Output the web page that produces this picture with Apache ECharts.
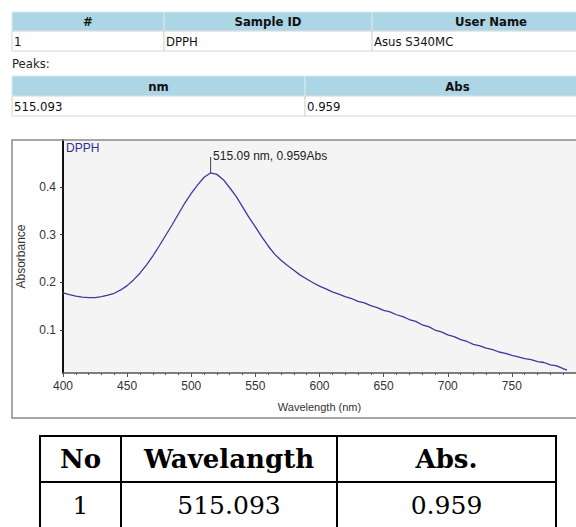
<!DOCTYPE html>
<html><head><meta charset="utf-8">
<script src="https://cdn.jsdelivr.net/npm/echarts@6/dist/echarts.min.js"></script>
<style>html,body{margin:0;padding:0;background:#fff}#c{width:576px;height:527px}</style>
</head><body><div id="c"></div>
<script>
// ---- data ----
const wavelengths = [400,405,410,415,420,425,430,435,440,445,450,455,460,465,470,475,480,485,490,495,500,505,510,515,520,525,530,535,540,545,550,555,560,565,570,575,580,585,590,595,600,605,610,615,620,625,630,635,640,645,650,655,660,665,670,675,680,685,690,695,700,705,710,715,720,725,730,735,740,745,750,755,760,765,770,775,780,785,790,793];
const absorbance = [0.178,0.174,0.171,0.169,0.168,0.168,0.170,0.173,0.177,0.184,0.193,0.205,0.219,0.236,0.255,0.276,0.298,0.320,0.343,0.366,0.386,0.404,0.420,0.429,0.426,0.415,0.398,0.380,0.358,0.336,0.316,0.295,0.276,0.259,0.246,0.235,0.225,0.215,0.207,0.199,0.192,0.186,0.180,0.175,0.170,0.166,0.160,0.157,0.151,0.147,0.141,0.138,0.132,0.128,0.122,0.118,0.111,0.107,0.100,0.096,0.090,0.086,0.080,0.076,0.070,0.067,0.062,0.059,0.054,0.051,0.047,0.044,0.040,0.038,0.034,0.032,0.027,0.025,0.019,0.016];
const yTicks = [0.1,0.2,0.3,0.4];
const seriesName = 'DPPH';
const peakPoint = [515.093, 0.429];
const peakLabel = '515.09 nm, 0.959Abs';
const sampleHeaders = ['#','Sample ID','User Name'];
const sampleRow = ['1','DPPH','Asus S340MC'];
const peaksCaption = 'Peaks:';
const peakHeaders = ['nm','Abs'];
const peakRow = ['515.093','0.959'];
const resultHeaders = ['No','Wavelangth','Abs.'];
const resultRow = ['1','515.093','0.959'];

// ---- layout ----
const SANS = "'Liberation Sans Narrow','DejaVu Sans Condensed','Liberation Sans',Arial,sans-serif";
const ARIAL = "'Liberation Sans',Arial,sans-serif";
const SERIF = "'DejaVu Serif','Liberation Serif',serif";
const g = [];
function table(cols, y0, hH, rH, headers, row){
  for(let i=0;i<headers.length;i++){
    const x0=cols[i], x1=cols[i+1];
    g.push({type:'rect',shape:{x:x0,y:y0,width:x1-x0,height:hH},style:{fill:'#acd5e5',stroke:'#d8e8ee',lineWidth:1},silent:true});
    g.push({type:'text',x:(x0+x1)/2,y:y0+hH/2,style:{text:headers[i],font:'bold 13px '+SANS,fill:'#111',align:'center',verticalAlign:'middle'},silent:true});
    g.push({type:'rect',shape:{x:x0,y:y0+hH,width:x1-x0,height:rH},style:{fill:'#fff',stroke:'#d4d4d4',lineWidth:1},silent:true});
    g.push({type:'text',x:x0+2,y:y0+hH+rH/2,style:{text:row[i],font:'13px '+SANS,fill:'#111',align:'left',verticalAlign:'middle'},silent:true});
  }
}
table([12,164,372,610], 12, 19, 20, sampleHeaders, sampleRow);
g.push({type:'text',x:12,y:63,style:{text:peaksCaption,font:'13px '+SANS,fill:'#222',align:'left',verticalAlign:'middle'},silent:true});
table([12,305,610], 76, 20, 20, peakHeaders, peakRow);
// chart frame
g.push({type:'rect',shape:{x:12,y:140,width:620,height:278},style:{fill:'none',stroke:'#8a8a8a',lineWidth:1.5},silent:true,z:10});
g.push({type:'text',x:66,y:148,style:{text:seriesName,font:'12px '+ARIAL,fill:'#2e2e9e',align:'left',verticalAlign:'middle'},silent:true,z:10});
// results table
const rc=[40,121,337,556];
g.push({type:'rect',shape:{x:40,y:436,width:516,height:96},style:{fill:'none',stroke:'#000',lineWidth:2},silent:true});
g.push({type:'line',shape:{x1:40,y1:482,x2:556,y2:482},style:{stroke:'#000',lineWidth:2},silent:true});
[121,337].forEach(x=>g.push({type:'line',shape:{x1:x,y1:436,x2:x,y2:532},style:{stroke:'#000',lineWidth:2},silent:true}));
for(let i=0;i<3;i++){
  const cx=(rc[i]+rc[i+1])/2;
  g.push({type:'text',x:cx,y:459,style:{text:resultHeaders[i],font:'bold 26px '+SERIF,fill:'#000',align:'center',verticalAlign:'middle'},silent:true});
  g.push({type:'text',x:cx,y:505,style:{text:resultRow[i],font:'25px '+SERIF,fill:'#000',align:'center',verticalAlign:'middle'},silent:true});
}

const chart = echarts.init(document.getElementById('c'), null, {renderer:'svg'});
chart.setOption({
  animation:false,
  backgroundColor:'#fff',
  grid:{left:63,top:140,width:522.3,height:233,show:true,backgroundColor:'#f4f4f4',borderWidth:0},
  xAxis:{type:'value',min:400,max:800,interval:50,
    name:'Wavelength (nm)',nameLocation:'middle',nameGap:28,
    nameTextStyle:{fontFamily:ARIAL,fontSize:11,color:'#333'},
    axisLine:{lineStyle:{color:'#555',width:1.5}},
    axisTick:{show:true,length:4,inside:false,lineStyle:{color:'#555'}},
    minorTick:{show:true,splitNumber:5,length:2,lineStyle:{color:'#555'}},
    axisLabel:{showMaxLabel:false,fontFamily:ARIAL,fontSize:12,color:'#333',margin:7},
    splitLine:{show:false}},
  yAxis:{type:'value',min:0.01,max:0.498,
    name:'Absorbance',nameLocation:'middle',nameGap:36,nameRotate:90,
    nameTextStyle:{fontFamily:ARIAL,fontSize:12,color:'#333'},
    axisLine:{show:true,lineStyle:{color:'#111',width:2}},
    axisTick:{show:true,length:3,customValues:yTicks,lineStyle:{color:'#333'}},
    axisLabel:{customValues:yTicks,formatter:v=>v.toFixed(1),fontFamily:ARIAL,fontSize:12,color:'#333',margin:7},
    splitLine:{show:false}},
  series:[{type:'line',name:seriesName,data:wavelengths.map((w,i)=>[w,absorbance[i]]),showSymbol:false,
    lineStyle:{color:'#3a3a9e',width:1.3},itemStyle:{color:'#3a3a9e'},
    markPoint:{symbol:'rect',symbolSize:[1,16],symbolOffset:[0,-8],itemStyle:{color:'#444'},
      data:[{coord:peakPoint}],
      label:{show:true,formatter:peakLabel,position:[3,-7],align:'left',verticalAlign:'top',fontFamily:ARIAL,fontSize:12,color:'#222'}}}],
  graphic:g
});
</script></body></html>
